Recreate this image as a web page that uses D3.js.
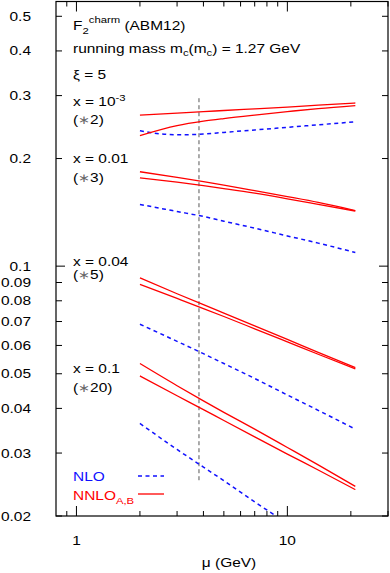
<!DOCTYPE html>
<html>
<head>
<meta charset="utf-8">
<script src="https://cdn.jsdelivr.net/npm/d3@7"></script>
<style>
  body { margin: 0; background: #fff; }
  text { font-family: 'Liberation Sans', Arial, Helvetica, sans-serif; }
</style>
</head>
<body>
<svg id="chart" width="390" height="573"></svg>
<script>
// ===== data (values already multiplied by the factor) =====
var muGrid = [2, 3, 4, 5, 7, 10, 14, 21]
var muNlo1 = [2, 2.5, 3, 4, 5, 7, 10, 14, 21]
var muNlo4 = [2, 3, 4, 5, 7, 10]

// x = 10^-3 (*2)
var nnloA1 = [0.2647, 0.2678, 0.2706, 0.2725, 0.2755, 0.2787, 0.2820, 0.2860]
var nnloB1 = [0.2317, 0.2471, 0.2544, 0.2588, 0.2647, 0.2706, 0.2760, 0.2814]
var nlo1 = [0.2392, 0.2345, 0.2331, 0.2342, 0.2367, 0.2404, 0.2445, 0.2485, 0.2535]
// x = 0.01 (*3)
var nnloA2 = [0.1837, 0.1771, 0.1724, 0.1686, 0.1627, 0.1565, 0.1507, 0.1431]
var nnloB2 = [0.1767, 0.1717, 0.1679, 0.1648, 0.1600, 0.1543, 0.1489, 0.1426]
var nlo2 = [0.1488, 0.1422, 0.1377, 0.1336, 0.1277, 0.1215, 0.1160, 0.1092]
// x = 0.04 (*5)
var nnloA3 = [0.0927, 0.0837, 0.0780, 0.0739, 0.0681, 0.0624, 0.0574, 0.0520]
var nnloB3 = [0.0889, 0.0812, 0.0761, 0.0723, 0.0668, 0.0614, 0.0567, 0.0516]
var nlo3 = [0.0688, 0.0616, 0.0569, 0.0534, 0.0485, 0.0436, 0.0395, 0.0350]
// x = 0.1 (*20)
var nnloA4 = [0.0534, 0.0463, 0.0420, 0.0390, 0.0350, 0.0311, 0.0278, 0.0242]
var nnloB4 = [0.0493, 0.0434, 0.0397, 0.0370, 0.0333, 0.0298, 0.0269, 0.0237]
var nlo4 = [0.0363, 0.0307, 0.0274, 0.0251, 0.0219, 0.0191]

// mu = 3 m_c marker
var markerMu = 3.81
var markerRange = [0.025, 0.295]

// tick values
var yTickValues = [0.02, 0.03, 0.04, 0.05, 0.06, 0.07, 0.08, 0.09, 0.1, 0.2, 0.3, 0.4, 0.5]
var xMajorTicks = [1, 10]
var xMinorTicks = [0.9, 2, 3, 4, 5, 6, 7, 8, 9, 20, 30]

var RED = '#ff0000'
var BLUE = '#1010ff'
var SX = 1.19 // picture is stretched sideways

var svg = d3.select('#chart')

var x = d3.scaleLog().domain([0.8, 30]).range([56, 388])
var y = d3.scaleLog().domain([0.02, 0.55]).range([516, 1.5])

// clip for the plot area
svg.append('clipPath').attr('id', 'plotclip')
  .append('rect')
  .attr('x', x.range()[0]).attr('y', y.range()[1])
  .attr('width', x.range()[1] - x.range()[0])
  .attr('height', y.range()[0] - y.range()[1])

// ===== curves =====
var line = d3.line()
  .x(function (d) { return x(d[0]) })
  .y(function (d) { return y(d[1]) })
  .curve(d3.curveMonotoneX)

function zip (mus, vals) { return mus.map(function (m, i) { return [m, vals[i]] }) }

var curves = [
  { pts: zip(muNlo1, nlo1), color: BLUE, dash: true },
  { pts: zip(muGrid, nlo2), color: BLUE, dash: true },
  { pts: zip(muGrid, nlo3), color: BLUE, dash: true },
  { pts: zip(muNlo4, nlo4), color: BLUE, dash: true },
  { pts: zip(muGrid, nnloA1), color: RED },
  { pts: zip(muGrid, nnloB1), color: RED },
  { pts: zip(muGrid, nnloA2), color: RED },
  { pts: zip(muGrid, nnloB2), color: RED },
  { pts: zip(muGrid, nnloA3), color: RED },
  { pts: zip(muGrid, nnloB3), color: RED },
  { pts: zip(muGrid, nnloA4), color: RED },
  { pts: zip(muGrid, nnloB4), color: RED }
]

var plot = svg.append('g').attr('clip-path', 'url(#plotclip)')

// vertical dashed marker
plot.append('line')
  .attr('x1', x(markerMu)).attr('x2', x(markerMu))
  .attr('y1', y(markerRange[1])).attr('y2', y(markerRange[0]))
  .attr('stroke', '#444')
  .attr('stroke-width', 0.9)
  .attr('stroke-dasharray', '4,3')

plot.selectAll('path.curve')
  .data(curves)
  .enter()
  .append('path')
  .attr('class', 'curve')
  .attr('fill', 'none')
  .attr('stroke', function (d) { return d.color })
  .attr('stroke-width', function (d) { return d.dash ? 1.5 : 1.3 })
  .attr('stroke-dasharray', function (d) { return d.dash ? '4,3.5' : null })
  .attr('d', function (d) { return line(d.pts) })

// ===== frame and ticks =====
var x0 = x.range()[0]
var x1 = x.range()[1]
var yb = y.range()[0]
var yt = y.range()[1]

svg.append('rect')
  .attr('x', x0).attr('y', yt)
  .attr('width', x1 - x0).attr('height', yb - yt)
  .attr('fill', 'none').attr('stroke', '#000').attr('stroke-width', 1.2)

var ticks = svg.append('g').attr('stroke', '#000').attr('stroke-width', 1)

// y ticks, left and mirrored on the right
yTickValues.forEach(function (v) {
  var len = v === 0.1 ? 9 : 6
  ticks.append('line').attr('x1', x0).attr('x2', x0 + len).attr('y1', y(v)).attr('y2', y(v))
  ticks.append('line').attr('x1', x1).attr('x2', x1 - len).attr('y1', y(v)).attr('y2', y(v))
})

// x ticks, bottom and mirrored on top
xMajorTicks.concat(xMinorTicks).forEach(function (m) {
  var len = xMajorTicks.indexOf(m) >= 0 ? 10 : 5
  ticks.append('line').attr('x1', x(m)).attr('x2', x(m)).attr('y1', yb).attr('y2', yb - len)
  ticks.append('line').attr('x1', x(m)).attr('x2', x(m)).attr('y1', yt).attr('y2', yt + len)
})

// text helper: gnuplot-like text, stretched horizontally
function stext (px, py, anchor) {
  return svg.append('text')
    .attr('transform', 'translate(' + px + ',' + py + ') scale(' + SX + ',1)')
    .attr('text-anchor', anchor || 'start')
    .attr('font-size', 13)
    .attr('fill', '#000')
}

// "(*n)" factor labels with a light star
function factor (py, n) {
  var f = stext(73, py)
  f.append('tspan').text('(')
  f.append('tspan').attr('fill', '#666').attr('font-size', 11.5).text('∗')
  f.append('tspan').text(n + ')')
}

// y tick labels
yTickValues.forEach(function (v) {
  stext(31, y(v) + 4.5, 'end').text(d3.format('~g')(v))
})

// x tick labels
xMajorTicks.forEach(function (m) {
  stext(x(m), 545, 'middle').text(d3.format('~g')(m))
})
stext(229, 567, 'middle').text('μ (GeV)')

// ===== annotations =====
var t = stext(73, 29.5)
t.append('tspan').text('F')
t.append('tspan').attr('font-size', 9.5).attr('dy', 4).text('2')
t.append('tspan').attr('font-size', 9.5).attr('dy', -10.5).text('charm')
t.append('tspan').attr('dy', 6.5).text(' (ABM12)')

t = stext(73, 53)
t.append('tspan').text('running mass m')
t.append('tspan').attr('font-size', 9.5).attr('dy', 3).text('c')
t.append('tspan').attr('dy', -3).text('(m')
t.append('tspan').attr('font-size', 9.5).attr('dy', 3).text('c')
t.append('tspan').attr('dy', -3).text(') = 1.27 GeV')

stext(73, 79).text('ξ = 5')

t = stext(73, 106)
t.append('tspan').text('x = 10')
t.append('tspan').attr('font-size', 9.5).attr('dy', -5.5).text('-3')
factor(124, 2)

stext(73, 163).text('x = 0.01')
factor(182, 3)

stext(73, 266).text('x = 0.04')
factor(279, 5)

stext(73, 373).text('x = 0.1')
factor(392, 20)

// ===== legend =====
stext(73, 481).attr('fill', BLUE).text('NLO')
svg.append('line')
  .attr('x1', 138).attr('x2', 164).attr('y1', 476).attr('y2', 476)
  .attr('stroke', BLUE).attr('stroke-width', 1.5).attr('stroke-dasharray', '4,3.5')

t = stext(73, 500).attr('fill', RED)
t.append('tspan').text('NNLO')
t.append('tspan').attr('font-size', 9.5).attr('dy', 4).text('A,B')
svg.append('line')
  .attr('x1', 138).attr('x2', 164).attr('y1', 494).attr('y2', 494)
  .attr('stroke', RED).attr('stroke-width', 1.3)
</script>
</body>
</html>
